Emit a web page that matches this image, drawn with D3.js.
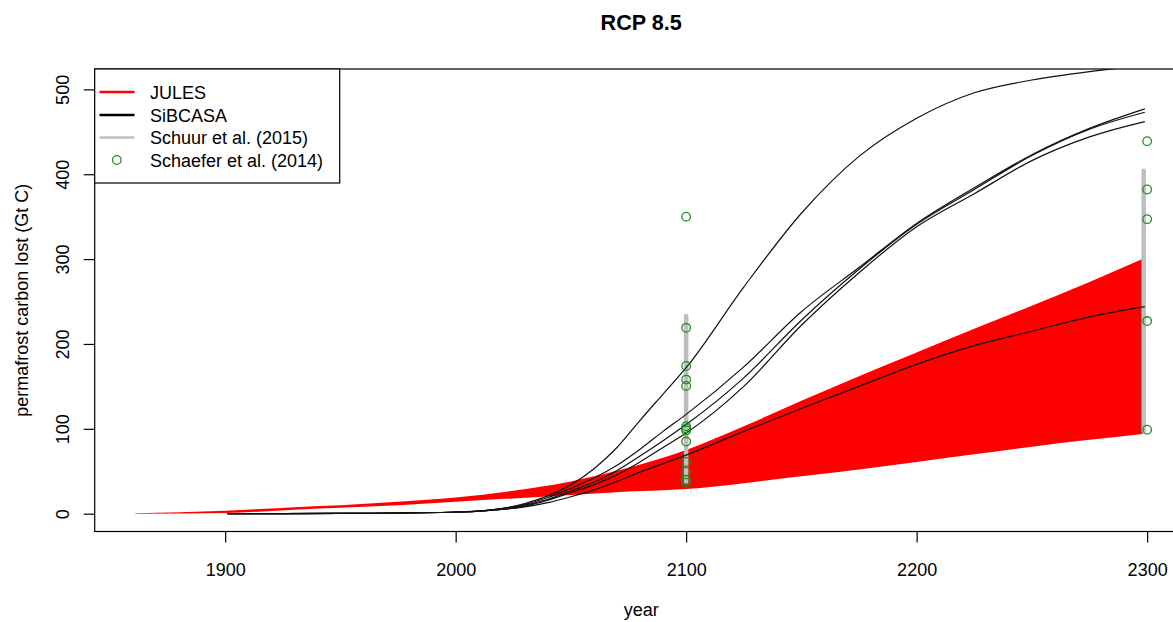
<!DOCTYPE html>
<html>
<head>
<meta charset="utf-8">
<script src="https://cdn.jsdelivr.net/npm/d3@7"></script>
<style>
  html, body { margin: 0; padding: 0; background: #fff; }
  svg { display: block; font-family: "Liberation Sans", Arial, Helvetica, sans-serif; }
</style>
</head>
<body>
<svg id="chart" width="1173" height="622"></svg>
<script>
// JULES ensemble range (Gt C lost)
const julesYears = [1861, 1900, 1932, 1950, 1975, 2000, 2025, 2050, 2075, 2100, 2125, 2150, 2175, 2200, 2225, 2250, 2275, 2298];
const julesLower = [0, 0.8, 5, 7, 10, 14, 18, 22, 26, 29, 36, 44, 52, 61, 70, 79, 87, 94];
const julesUpper = [0.6, 3.5, 8, 10, 14, 19, 27, 38, 54, 75, 103, 133, 162, 190, 218, 245, 273, 300];

// SiBCASA runs (Gt C lost)
const sibcasaYears = [1901, 1925, 1950, 1975, 2000, 2010, 2020, 2030, 2040, 2050, 2060, 2070, 2080, 2090, 2100, 2125, 2150, 2175, 2200, 2225, 2250, 2275, 2299];
const sibcasaRunA = [0, 0.1, 0.3, 0.8, 2, 3, 6, 12, 21, 34, 53, 78, 110, 141, 172, 267, 354, 421, 466, 496, 511, 521, 528];
const sibcasaRunB = [0, 0.1, 0.3, 0.8, 2, 3, 6, 11, 19, 30, 42, 57, 76, 97, 117, 173, 238, 290, 342, 384, 423, 454, 477];
const sibcasaRunC = [0, 0.1, 0.3, 0.8, 2, 3, 6, 10, 17, 27, 37, 51, 68, 86, 105, 160, 228, 288, 341, 382, 422, 453, 473];
const sibcasaRunD = [0, 0.1, 0.3, 0.8, 2, 3, 5, 9, 16, 25, 34, 46, 61, 78, 95, 150, 222, 284, 338, 377, 416, 444, 462];
const sibcasaRunE = [0, 0.1, 0.3, 0.8, 2, 3, 5, 8, 13, 20, 28, 38, 49, 59, 69, 97, 124, 150, 176, 198, 215, 232, 244];

// Schuur et al. (2015) ranges
const schuurYears = [2100, 2298.5];
const schuurLow = [37, 97];
const schuurHigh = [233, 404];

// Schaefer et al. (2014) estimates
const schaeferYear2100 = 2100;
const schaefer2100 = [350, 219, 174, 158, 150.5, 103, 100.5, 98, 85, 61, 49.5, 40, 36.5];
const schaeferYear2300 = 2300;
const schaefer2300 = [439, 382, 347, 227, 99];

const xTicks = [1900, 2000, 2100, 2200, 2300];
const yTicks = [0, 100, 200, 300, 400, 500];

const legendLabels = ["JULES", "SiBCASA", "Schuur et al. (2015)", "Schaefer et al. (2014)"];

const svg = d3.select("#chart");
const plotLeft = 94.7, plotRight = 1187.7, plotTop = 69, plotBottom = 531.5;

const x = d3.scaleLinear().domain([1843.4, 2317.6]).range([plotLeft, plotRight]);
const y = d3.scaleLinear().domain([-21, 524]).range([plotBottom, plotTop]);

svg.append("defs").append("clipPath").attr("id", "plotclip")
  .append("rect").attr("x", plotLeft).attr("y", plotTop)
  .attr("width", plotRight - plotLeft).attr("height", plotBottom - plotTop);

const plot = svg.append("g").attr("clip-path", "url(#plotclip)");

// JULES band
const julesData = julesYears.map((yr, i) => ({ yr, lo: julesLower[i], hi: julesUpper[i] }));
plot.append("path")
  .datum(julesData)
  .attr("fill", "#ff0000")
  .attr("d", d3.area().x(d => x(d.yr)).y0(d => y(d.lo)).y1(d => y(d.hi)).curve(d3.curveMonotoneX));

// Schuur ranges
schuurYears.forEach((yr, i) => {
  plot.append("line")
    .attr("x1", x(yr)).attr("x2", x(yr))
    .attr("y1", y(schuurLow[i])).attr("y2", y(schuurHigh[i]))
    .attr("stroke", "#bebebe").attr("stroke-width", 4.5).attr("stroke-linecap", "round");
});

// SiBCASA runs
const runs = [sibcasaRunA, sibcasaRunB, sibcasaRunC, sibcasaRunD, sibcasaRunE];
const line = d3.line().x(d => x(d[0])).y(d => y(d[1])).curve(d3.curveMonotoneX);
runs.forEach(run => {
  plot.append("path")
    .datum(sibcasaYears.map((yr, i) => [yr, run[i]]))
    .attr("fill", "none").attr("stroke", "#111").attr("stroke-width", 1.2)
    .attr("d", line);
});

// Schaefer points
const pts = schaefer2100.map(v => [schaeferYear2100, v]).concat(schaefer2300.map(v => [schaeferYear2300, v]));
plot.selectAll("circle.pt").data(pts).enter().append("circle")
  .attr("class", "pt")
  .attr("cx", d => x(d[0])).attr("cy", d => y(d[1])).attr("r", 4.3)
  .attr("fill", "none").attr("stroke", "#228b22").attr("stroke-width", 1.3);

// Frame
svg.append("rect").attr("x", plotLeft).attr("y", plotTop)
  .attr("width", plotRight - plotLeft).attr("height", plotBottom - plotTop)
  .attr("fill", "none").attr("stroke", "#000").attr("stroke-width", 1.2);

// Axes
const xAxis = svg.append("g").attr("transform", `translate(0,${plotBottom})`)
  .call(d3.axisBottom(x).tickValues(xTicks).tickFormat(d3.format("d")).tickSize(11).tickSizeOuter(0));
xAxis.select(".domain").remove();
xAxis.selectAll(".tick line").attr("stroke", "#000").attr("stroke-width", 1.2);
xAxis.selectAll(".tick text").attr("y", 44.5).attr("dy", 0)
  .attr("font-size", 18).attr("fill", "#000").attr("font-family", "Liberation Sans, Arial, sans-serif");

const yAxis = svg.append("g").attr("transform", `translate(${plotLeft},0)`)
  .call(d3.axisLeft(y).tickValues(yTicks).tickFormat(d3.format("d")).tickSize(11).tickSizeOuter(0));
yAxis.select(".domain").remove();
yAxis.selectAll(".tick line").attr("stroke", "#000").attr("stroke-width", 1.2);
yAxis.selectAll(".tick text")
  .attr("transform", "rotate(-90)")
  .attr("text-anchor", "middle")
  .attr("x", 0).attr("y", -26.2).attr("dy", 0)
  .attr("font-size", 18).attr("fill", "#000").attr("font-family", "Liberation Sans, Arial, sans-serif");

// Titles
svg.append("text").attr("x", (plotLeft + plotRight) / 2).attr("y", 30)
  .attr("text-anchor", "middle").attr("font-size", 21.6).attr("font-weight", "bold")
  .text("RCP 8.5");
svg.append("text").attr("x", (plotLeft + plotRight) / 2).attr("y", 616)
  .attr("text-anchor", "middle").attr("font-size", 18).text("year");
svg.append("text").attr("transform", `translate(28,${(plotTop + plotBottom) / 2}) rotate(-90)`)
  .attr("text-anchor", "middle").attr("font-size", 18).text("permafrost carbon lost (Gt C)");

// Legend
const lg = svg.append("g");
lg.append("rect").attr("x", plotLeft).attr("y", plotTop).attr("width", 245).attr("height", 114)
  .attr("fill", "#fff").attr("stroke", "#000").attr("stroke-width", 1.2);
const rowY = [92, 115, 137.5, 160];
const legendColors = ["#ff0000", "#000000", "#bebebe"];
legendColors.forEach((c, i) => {
  lg.append("line").attr("x1", 99.5).attr("x2", 134.5).attr("y1", rowY[i]).attr("y2", rowY[i])
    .attr("stroke", c).attr("stroke-width", 2.6);
});
lg.append("circle").attr("cx", 116.8).attr("cy", rowY[3]).attr("r", 4.3)
  .attr("fill", "none").attr("stroke", "#228b22").attr("stroke-width", 1.3);
legendLabels.forEach((t, i) => {
  lg.append("text").attr("x", 150).attr("y", rowY[i] + 6.5).attr("font-size", 18).attr("fill", "#000").text(t);
});
</script>
</body>
</html>
